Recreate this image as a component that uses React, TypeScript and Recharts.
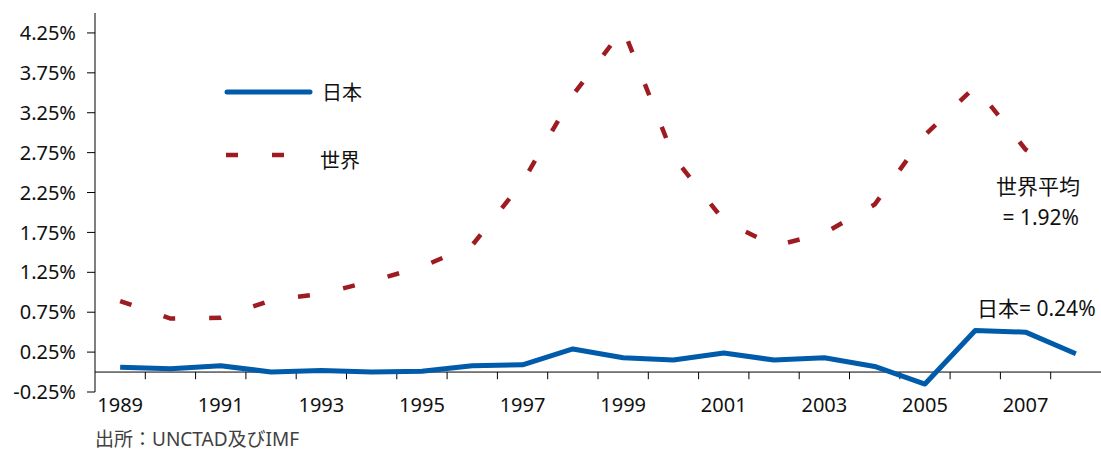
import { Legend, Line, LineChart, ReferenceLine, XAxis, YAxis } from "recharts";

const years = [
  "1989", "1990", "1991", "1992", "1993", "1994", "1995", "1996", "1997", "1998",
  "1999", "2000", "2001", "2002", "2003", "2004", "2005", "2006", "2007", "2008",
];
const japan = [
  0.06, 0.04, 0.08, 0.0, 0.02, 0.0, 0.01, 0.08, 0.09, 0.29,
  0.18, 0.15, 0.24, 0.15, 0.18, 0.07, -0.15, 0.52, 0.5, 0.23,
];
const world = [
  0.89, 0.67, 0.68, 0.9, 0.98, 1.14, 1.32, 1.59, 2.38, 3.47,
  4.3, 2.7, 1.9, 1.58, 1.74, 2.1, 2.97, 3.58, 2.79, 2.4,
];
const yTicks = [-0.25, 0.25, 0.75, 1.25, 1.75, 2.25, 2.75, 3.25, 3.75, 4.25];

const data = years.map((year, i) => ({ idx: i, year, japan: japan[i], world: world[i] }));
const labelTicks = years.map((_, i) => i).filter((i) => i % 2 === 0);
const boundaries = years.slice(1).map((_, i) => i + 0.5);

const FONT = "'Noto Sans', 'Noto Sans CJK JP', sans-serif";
const BLUE = "#005BAA";
const RED = "#9E1B21";
const TEXT = "#111";

function LegendBox() {
  return (
    <svg width={150} height={100} style={{ overflow: "visible" }}>
      <line x1={7} y1={17} x2={90} y2={17} stroke={BLUE} strokeWidth={5} strokeLinecap="round" />
      <text x={102} y={17} dominantBaseline="central" fontSize={20} fill={TEXT} fontFamily={FONT}>
        日本
      </text>
      <line x1={6} y1={80} x2={64} y2={80} stroke={RED} strokeWidth={4.5} strokeDasharray="12 34" />
      <text x={100} y={85} dominantBaseline="central" fontSize={20} fill={TEXT} fontFamily={FONT}>
        世界
      </text>
    </svg>
  );
}

export default function App() {
  return (
    <div style={{ position: "absolute", left: 0, top: 0, width: 1101, height: 450, fontFamily: FONT }}>
      <LineChart width={1101} height={450} data={data} margin={{ top: 13, right: 0, left: 0, bottom: 0 }}>
        <XAxis
          type="number"
          dataKey="idx"
          domain={[-0.5, 19.5]}
          ticks={labelTicks}
          interval={0}
          tickFormatter={(i: number) => years[i]}
          axisLine={false}
          tickLine={false}
          tickSize={0}
          tickMargin={6}
          height={58}
          tick={{ fontSize: 20, fill: TEXT, fontFamily: FONT }}
        />
        <YAxis
          type="number"
          domain={[-0.25, 4.5]}
          ticks={yTicks}
          interval={0}
          width={95}
          tickFormatter={(v: number) => `${v.toFixed(2)}%`}
          axisLine={{ stroke: "#000" }}
          tickLine={{ stroke: "#000" }}
          tickSize={8}
          tickMargin={11}
          tick={{ fontSize: 20, fill: TEXT, fontFamily: FONT }}
        />
        <ReferenceLine y={0} stroke="#000" strokeWidth={1} />
        {boundaries.map((b) => (
          <ReferenceLine
            key={b}
            segment={[
              { x: b, y: 0 },
              { x: b, y: -0.09 },
            ]}
            stroke="#000"
            strokeWidth={1}
          />
        ))}
        <Legend
          layout="vertical"
          align="center"
          verticalAlign="middle"
          content={() => <LegendBox />}
          wrapperStyle={{ left: 220, top: 75, width: 150, height: 100 }}
        />
        <Line
          type="linear"
          dataKey="world"
          name="世界"
          stroke={RED}
          strokeWidth={4.5}
          strokeDasharray="12 34"
          dot={false}
          activeDot={false}
          isAnimationActive={false}
        />
        <Line
          type="linear"
          dataKey="japan"
          name="日本"
          stroke={BLUE}
          strokeWidth={5}
          strokeLinejoin="round"
          dot={false}
          activeDot={false}
          isAnimationActive={false}
        />
      </LineChart>
      <div
        style={{
          position: "absolute",
          left: 988,
          top: 160,
          paddingTop: 11,
          width: 100,
          lineHeight: "31px",
          fontSize: 21,
          color: TEXT,
          textAlign: "center",
          background: "#fff",
        }}
      >
        世界平均
        <br />
        &nbsp;= 1.92%
      </div>
      <div
        style={{
          position: "absolute",
          left: 977,
          top: 293,
          lineHeight: "30px",
          fontSize: 21,
          color: TEXT,
          whiteSpace: "nowrap",
        }}
      >
        日本= 0.24%
      </div>
      <div
        style={{
          position: "absolute",
          left: 95,
          top: 428,
          lineHeight: "22px",
          fontSize: 19,
          color: "#404040",
          whiteSpace: "nowrap",
        }}
      >
        出所：UNCTAD及びIMF
      </div>
    </div>
  );
}
